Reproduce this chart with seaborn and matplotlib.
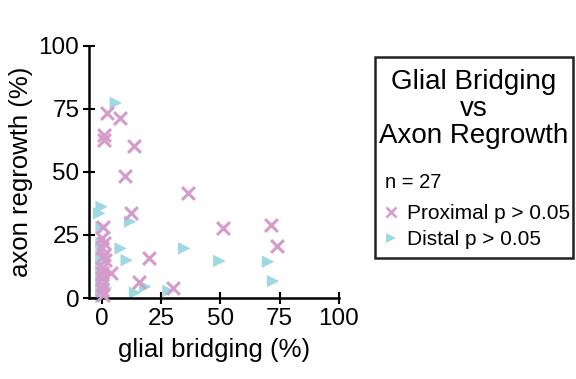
import matplotlib
matplotlib.use("Agg")
import matplotlib.pyplot as plt
from matplotlib.patches import Rectangle
from matplotlib.lines import Line2D
import seaborn as sns
import pandas as pd

# proximal measurements (glial bridging %, axon regrowth %)
prox_bridging = [2.3, 7.8, 1.0, 1.0, 13.7, 9.9, 36.5, 12.4, 0.5, 51.3, 71.5, 74.0,
                 0.0, 20.0, 1.0, 1.5, 3.9, 15.8, 29.9, 0.5,
                 0.0, 0.0, 0.0, 0.0, 0.0, 1.0, 0.0]
prox_regrowth = [73.4, 71.4, 64.5, 62.5, 60.3, 48.4, 41.7, 33.7, 28.3, 27.8, 29.0, 20.6,
                 19.8, 16.0, 17.0, 15.0, 9.8, 6.5, 4.1, 1.2,
                 24.0, 12.0, 8.0, 5.0, 3.0, 22.0, 10.0]

# distal measurements
dist_bridging = [6.0, 0.0, -1.0, 0.0, 12.0, 8.0, 10.6, 34.8, 49.6, 70.1, 72.2, 18.4,
                 14.1, 28.2, 0.0, 0.0, 0.0, 0.0, 0.0, 1.0, 0.0, 2.0, 0.0, 0.0,
                 0.0, 1.0, 0.0]
dist_regrowth = [77.4, 36.2, 33.6, 28.3, 30.3, 19.7, 15.0, 19.7, 14.7, 14.4, 6.7, 4.5,
                 2.1, 2.8, 19.0, 16.0, 12.0, 9.0, 6.0, 5.0, 3.0, 4.0, 1.0, 14.0,
                 22.0, 10.0, 0.5]

pink = "#D59BCB"
cyan = "#9ED8E2"

df = pd.DataFrame({
    "bridging": prox_bridging + dist_bridging,
    "regrowth": prox_regrowth + dist_regrowth,
    "site": ["Proximal"] * len(prox_bridging) + ["Distal"] * len(dist_bridging),
})

sns.set_style("white")
plt.rcParams["font.family"] = ["Liberation Sans", "DejaVu Sans"]
plt.rcParams["text.color"] = "black"
plt.rcParams["axes.labelcolor"] = "black"
plt.rcParams["xtick.color"] = "black"
plt.rcParams["ytick.color"] = "black"

fig = plt.figure(figsize=(5.76, 3.79), dpi=100)
ax = fig.add_axes([0.1545, 0.2137, 0.434, 0.665])

sns.scatterplot(data=df[df.site == "Distal"], x="bridging", y="regrowth",
                marker=">", s=80, color=cyan, edgecolor="none", ax=ax,
                clip_on=False, zorder=2)
sns.scatterplot(data=df[df.site == "Proximal"], x="bridging", y="regrowth",
                marker="x", s=85, color=pink, linewidth=2.2, ax=ax,
                clip_on=False, zorder=3)

ax.set_xlim(-5.3, 100)
ax.set_ylim(0, 100)
ax.set_xticks([0, 25, 50, 75, 100])
ax.set_yticks([0, 25, 50, 75, 100])
ax.set_xlabel("glial bridging (%)", fontsize=18.5, labelpad=6)
ax.set_ylabel("axon regrowth (%)", fontsize=18.5, labelpad=4)
ax.tick_params(direction="inout", length=8, width=1.5, labelsize=17.5,
               pad=3, left=True, bottom=True)
for side in ["top", "right"]:
    ax.spines[side].set_visible(False)
for side in ["left", "bottom"]:
    ax.spines[side].set_linewidth(1.8)
    ax.spines[side].set_color("black")
ax.set_facecolor("none")

# legend box
fig.patches.append(Rectangle((375 / 576, 1 - 258 / 379), 198 / 576, 201 / 379,
                             transform=fig.transFigure, fill=False,
                             edgecolor="#222222", linewidth=1.8))
fig.text(474 / 576, 1 - 109 / 379, "Glial Bridging\nvs\nAxon Regrowth",
         ha="center", va="center", fontsize=20, linespacing=1.05)
fig.text(385 / 576, 1 - 182 / 379, "n = 27", ha="left", va="center", fontsize=14.5)
handles = [Line2D([], [], marker="x", color=pink, linestyle="none", markersize=7,
                  markeredgewidth=1.8, label="Proximal p > 0.05"),
           Line2D([], [], marker=">", color=cyan, linestyle="none", markersize=7,
                  markeredgewidth=0, label="Distal p > 0.05")]
fig.legend(handles=handles, loc="upper left",
           bbox_to_anchor=(383 / 576, 1 - 204 / 379), frameon=False,
           fontsize=15, handlelength=0.8, handletextpad=0.35,
           labelspacing=0.35, borderpad=0, borderaxespad=0)

fig.savefig("out.png", dpi=100)
